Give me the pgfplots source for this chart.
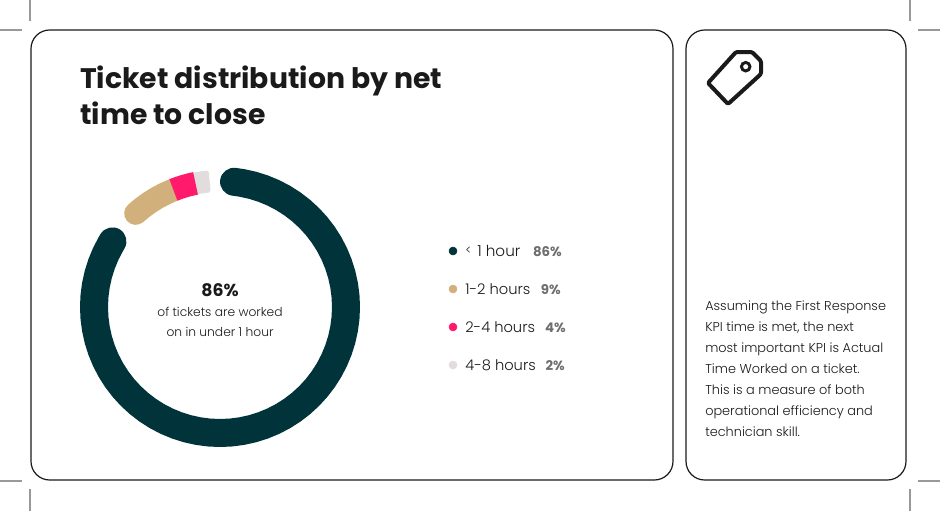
\documentclass[border=0pt]{standalone}
\usepackage{pgfplots}
\usepackage{fontspec}
\usepgfplotslibrary{polar}
\pgfplotsset{compat=1.18}
\setmainfont{Poppins}
\newfontfamily\lightf{Poppins Light}
\newfontfamily\boldf{Poppins Bold}
\definecolor{ink}{HTML}{1A1A1A}
\definecolor{dark}{HTML}{01343A}
\definecolor{tan}{HTML}{D2B07C}
\definecolor{hot}{HTML}{FF1A6C}
\definecolor{pale}{HTML}{E2DCDC}
\definecolor{crop}{HTML}{999999}
\definecolor{pct}{HTML}{6E6E6E}
\begin{document}
\begin{tikzpicture}[x=1pt,y=1pt]
\begin{axis}[at={(0pt,0pt)},anchor=south west,scale only axis,width=705pt,height=383.25pt,
  xmin=0,xmax=940,ymin=0,ymax=511,y dir=reverse,hide axis,clip=false]
% crop marks
\draw[crop,line width=1.5pt] (axis cs:30,0)--(axis cs:30,21);
\draw[crop,line width=1.5pt] (axis cs:0,30)--(axis cs:22,30);
\draw[crop,line width=1.5pt] (axis cs:30,489)--(axis cs:30,511);
\draw[crop,line width=1.5pt] (axis cs:0,481)--(axis cs:22,481);
\draw[crop,line width=1.5pt] (axis cs:910,0)--(axis cs:910,21);
\draw[crop,line width=1.5pt] (axis cs:918,30)--(axis cs:940,30);
\draw[crop,line width=1.5pt] (axis cs:910,489)--(axis cs:910,511);
\draw[crop,line width=1.5pt] (axis cs:918,481)--(axis cs:940,481);
% panels
\draw[ink,line width=0.9pt,rounded corners=14pt] (axis cs:31,30) rectangle (axis cs:673,480);
\draw[ink,line width=0.9pt,rounded corners=14pt] (axis cs:686,30) rectangle (axis cs:906,480);
% tag icon
\draw[ink,line width=3pt,line join=round,rounded corners=1pt]
  (axis cs:736,52)--(axis cs:752,52)--(axis cs:761,61)--(axis cs:761,74)--(axis cs:728,104)--(axis cs:708,83)--cycle;
\draw[ink,line width=2.2pt] (axis cs:745.7,66.7) circle[radius=3.2pt];
% title
\node[anchor=base west,inner sep=0pt,text=ink,font=\boldf\fontsize{21.2pt}{26pt}\selectfont] at (axis cs:80,88) {Ticket distribution by net};
\node[anchor=base west,inner sep=0pt,text=ink,font=\boldf\fontsize{21.2pt}{26pt}\selectfont] at (axis cs:80,124) {time to close};
% centre text
\node[anchor=base,inner sep=0pt,text=ink,font=\boldf\fontsize{13pt}{16pt}\selectfont] at (axis cs:220,296) {86\%};
\node[anchor=base,inner sep=0pt,text=ink,font=\lightf\fontsize{9.2pt}{12pt}\selectfont] at (axis cs:220,316) {of tickets are worked};
\node[anchor=base,inner sep=0pt,text=ink,font=\lightf\fontsize{9.2pt}{12pt}\selectfont] at (axis cs:220,336) {on in under 1 hour};
% legend dots
\addplot[tan!0!dark,only marks,mark=*,mark size=3pt] coordinates {(453,251)};
\addplot[tan,only marks,mark=*,mark size=3pt] coordinates {(453,289)};
\addplot[hot,only marks,mark=*,mark size=3pt] coordinates {(453,327)};
\addplot[pale,only marks,mark=*,mark size=3pt] coordinates {(453,365)};
% legend text
\node[anchor=base west,inner sep=0pt,text=ink,font=\lightf\fontsize{9pt}{13pt}\selectfont] at (axis cs:465,254) {<};
\node[anchor=base west,inner sep=0pt,text=ink,font=\lightf\fontsize{11.4pt}{13pt}\selectfont] at (axis cs:477,256) {1 hour};
\node[anchor=base west,inner sep=0pt,text=ink,font=\lightf\fontsize{11pt}{13pt}\selectfont] at (axis cs:465,294) {1-2 hours};
\node[anchor=base west,inner sep=0pt,text=ink,font=\lightf\fontsize{11pt}{13pt}\selectfont] at (axis cs:465,332) {2-4 hours};
\node[anchor=base west,inner sep=0pt,text=ink,font=\lightf\fontsize{11pt}{13pt}\selectfont] at (axis cs:465,370) {4-8 hours};
\node[anchor=base east,inner sep=0pt,text=pct,font=\boldf\fontsize{10pt}{13pt}\selectfont] at (axis cs:562,256) {86\%};
\node[anchor=base east,inner sep=0pt,text=pct,font=\boldf\fontsize{10pt}{13pt}\selectfont] at (axis cs:561,294) {9\%};
\node[anchor=base east,inner sep=0pt,text=pct,font=\boldf\fontsize{10pt}{13pt}\selectfont] at (axis cs:566,332) {4\%};
\node[anchor=base east,inner sep=0pt,text=pct,font=\boldf\fontsize{10pt}{13pt}\selectfont] at (axis cs:565,370) {2\%};
% side text
\foreach \yy/\tt in {310/Assuming the First Response,331/{KPI time is met, the next},352/most important KPI is Actual,373/Time Worked on a ticket.,394/This is a measure of both,415/operational efficiency and,436/technician skill.}{
  \edef\temp{\noexpand\node[anchor=base west,inner sep=0pt,text=ink,font=\noexpand\lightf\noexpand\fontsize{9.65pt}{12pt}\noexpand\selectfont] at (axis cs:705,\yy) {\unexpanded\expandafter{\tt}};}
  \temp
}
\end{axis}
\begin{polaraxis}[at={(165pt,153pt)},anchor=center,scale only axis,width=210pt,height=210pt,
  xmin=0,xmax=360,ymin=0,ymax=140,hide axis,clip=false]
\addplot[dark,line width=21pt,line cap=round,line join=round,no markers] coordinates {
 (83.6,126)(80,126)(75,126)(70,126)(65,126)(60,126)(55,126)(50,126)(45,126)(40,126)(35,126)(30,126)(25,126)(20,126)(15,126)(10,126)(5,126)(0,126)
 (355,126)(350,126)(345,126)(340,126)(335,126)(330,126)(325,126)(320,126)(315,126)(310,126)(305,126)(300,126)(295,126)(290,126)(285,126)(280,126)(275,126)(270,126)
 (265,126)(260,126)(255,126)(250,126)(245,126)(240,126)(235,126)(230,126)(225,126)(220,126)(215,126)(210,126)(205,126)(200,126)(195,126)(190,126)(185,126)(180,126)
 (175,126)(170,126)(165,126)(160,126)(155,126)(150,126)(148.6,126)};
\addplot[tan,line width=17.25pt,line cap=round,line join=round,no markers] coordinates {
 (132,126)(128,126)(124,126)(120,126)(116,126)(111.5,126)};
\addplot[pale,fill=pale,line width=3pt,line join=round,no markers] coordinates {
 (102,135)(98,135)(95.6,135)(95.6,117)(98,117)(102,117)} --cycle;
\addplot[hot,line width=17.25pt,line cap=butt,line join=round,no markers] coordinates {
 (111.7,126)(109,126)(106,126)(103,126)(101.2,126)};
\end{polaraxis}
\pgfresetboundingbox
\path[use as bounding box] (0pt,0pt) rectangle (705pt,383.25pt);
\end{tikzpicture}
\end{document}
